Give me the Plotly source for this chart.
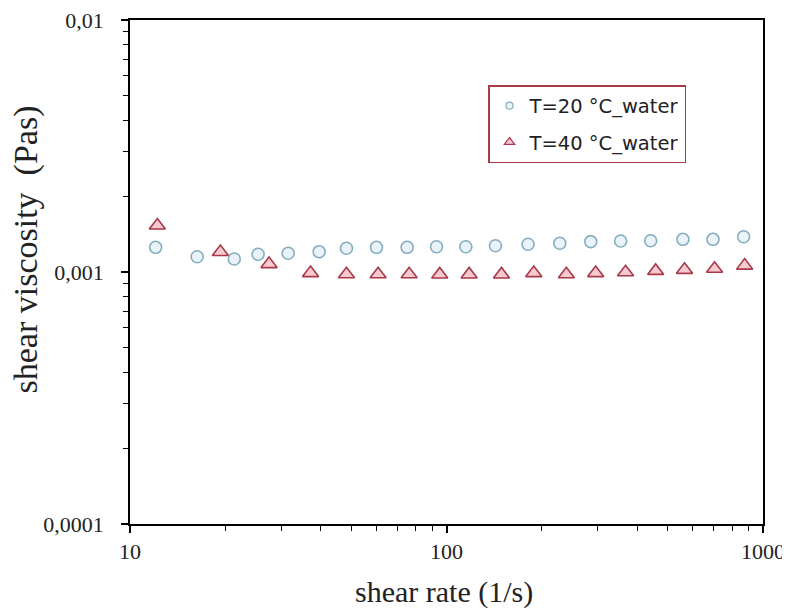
import plotly.graph_objects as go

# T = 20 °C water (circles)
rate_20 = [12.05, 16.3, 21.35, 25.4, 31.6, 39.6, 48.3, 60.1, 75.1, 93.0,
           115.1, 142.8, 181, 228, 285.6, 355, 441.6, 558.5, 695, 868.5]
visc_20 = [0.001253, 0.00115, 0.001126, 0.001176, 0.001187, 0.001204, 0.001242,
           0.001253, 0.001253, 0.00126, 0.00126, 0.001271, 0.001288, 0.0013,
           0.00132, 0.001327, 0.00133, 0.001348, 0.001348, 0.00138]

# T = 40 °C water (triangles)
rate_40 = [12.2, 19.3, 27.5, 37.2, 48.3, 60.8, 76.2, 95.2, 117.9, 149.2,
           188.7, 239.2, 296, 368, 458, 565, 703, 875]
visc_40 = [0.00153, 0.00120, 0.001075, 0.00099, 0.00098, 0.00098, 0.00098,
           0.000978, 0.000978, 0.000978, 0.00099, 0.00098, 0.00099, 0.000998,
           0.00101, 0.00102, 0.00103, 0.00106]

x_ticks = [10, 100, 1000]
x_tick_text = ["10", "100", "1000"]
y_ticks = [0.0001, 0.001, 0.01]
y_tick_text = ["0,0001", "0,001", "0,01"]
x_minor = [20, 30, 40, 50, 60, 70, 80, 90, 200, 300, 400, 500, 600, 700, 800, 900]
y_minor = [0.0002, 0.0003, 0.0004, 0.0005, 0.0006, 0.0007, 0.0008, 0.0009,
           0.002, 0.003, 0.004, 0.005, 0.006, 0.007, 0.008, 0.009]

label_20 = "T=20 °C_water"
label_40 = "T=40 °C_water"
x_title = "shear rate (1/s)"
y_title = "shear viscosity  (Pas)"

blue_line = "#86AEBE"
blue_fill = "#EAF3F9"
red_line = "#A8394A"
red_fill = "#F7CAD0"

fig = go.Figure()
fig.add_trace(go.Scatter(x=rate_20, y=visc_20, mode="markers", showlegend=False,
                         marker=dict(symbol="circle", size=12, color=blue_fill,
                                     line=dict(color=blue_line, width=1.6))))
fig.add_trace(go.Scatter(x=rate_40, y=visc_40, mode="markers", showlegend=False,
                         marker=dict(symbol="triangle-up", size=14, color=red_fill,
                                     line=dict(color=red_line, width=1.6))))
# legend entries with small symbols
fig.add_trace(go.Scatter(x=[None], y=[None], mode="markers", name=label_20,
                         legendgroup="a",
                         marker=dict(symbol="circle", size=7, color=blue_fill,
                                     line=dict(color=blue_line, width=1.2))))
fig.add_trace(go.Scatter(x=[None], y=[None], mode="markers", name=label_40,
                         legendgroup="b",
                         marker=dict(symbol="triangle-up", size=9, color=red_fill,
                                     line=dict(color=red_line, width=1.2))))

tick_font = dict(family="Liberation Serif", size=22, color="#222222")

fig.update_xaxes(type="log", range=[1, 3], tickmode="array", tickvals=x_ticks,
                 ticktext=x_tick_text, ticks="outside", ticklen=7, tickwidth=1.5,
                 tickcolor="black", showline=True, linecolor="black", linewidth=1.5,
                 mirror=True, showgrid=False, zeroline=False, tickfont=tick_font,
                 ticklabelstandoff=0, automargin=False, ticklabeloverflow="allow",
                 minor=dict(tickmode="array", tickvals=x_minor, ticks="outside",
                            ticklen=5, tickwidth=1.3, tickcolor="black", showgrid=False))
fig.update_yaxes(type="log", range=[-4, -2], tickmode="array", tickvals=y_ticks,
                 ticktext=y_tick_text, ticks="outside", ticklen=7, tickwidth=1.5,
                 tickcolor="black", showline=True, linecolor="black", linewidth=1.5,
                 mirror=True, showgrid=False, zeroline=False, tickfont=tick_font,
                 ticklabelstandoff=13, automargin=False, ticklabeloverflow="allow",
                 minor=dict(tickmode="array", tickvals=y_minor, ticks="outside",
                            ticklen=5, tickwidth=1.3, tickcolor="black", showgrid=False))

# page body has an 8px margin, so the figure is sized/offset to compensate
fig.update_layout(
    width=782, height=604,
    margin=dict(l=122, r=27, t=12, b=88),
    paper_bgcolor="white", plot_bgcolor="white",
    showlegend=True,
    legend=dict(x=0.5656, y=0.871, xanchor="left", yanchor="top",
                bgcolor="white", bordercolor="#A83C46", borderwidth=1.5,
                font=dict(family="DejaVu Sans", size=19.5, color="#222222"),
                tracegroupgap=8, itemwidth=30),
    annotations=[
        dict(text=x_title, xref="paper", yref="paper", x=0.496, y=-0.135,
             xanchor="center", yanchor="middle", showarrow=False,
             font=dict(family="Liberation Serif", size=30, color="#222222")),
        dict(text=y_title, xref="paper", yref="paper", x=-0.165, y=0.5437,
             xanchor="center", yanchor="middle", showarrow=False, textangle=-90,
             font=dict(family="Liberation Serif", size=34, color="#222222")),
    ],
)

fig.write_html("out.html")
